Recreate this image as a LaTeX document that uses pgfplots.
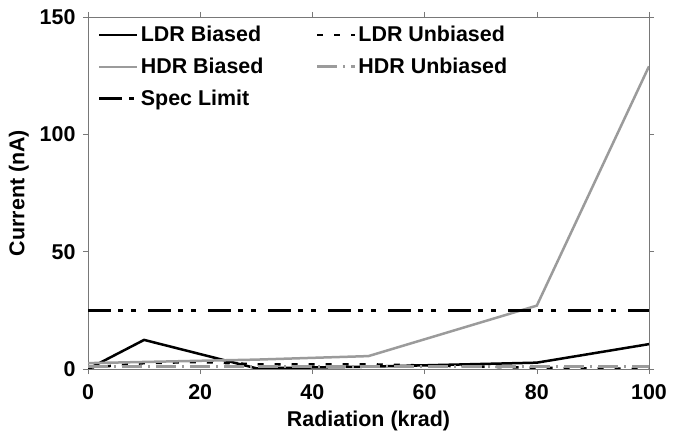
\documentclass[border=0pt]{standalone}
\usepackage{pgfplots}
\pgfplotsset{compat=1.18}
\usepackage{fontspec}
\setmainfont{Liberation Sans}
\definecolor{lgray}{RGB}{155,155,155}
\definecolor{fgray}{RGB}{120,120,120}
\begin{document}
\begin{tikzpicture}
\useasboundingbox (0,0) rectangle (680bp,438bp);
\begin{axis}[
  at={(88bp,69bp)}, anchor=south west,
  width=561bp, height=352bp, scale only axis,
  xmin=0, xmax=100, ymin=0, ymax=150,
  xtick={0,20,...,100}, ytick={0,50,100,150},
  tick align=outside, major tick length=5bp,
  every tick/.style={fgray, line width=0.6bp},
  axis line style={fgray, line width=0.8bp},
  tick label style={font=\fontsize{21.5}{23}\selectfont\bfseries},
  /pgf/number format/assume math mode=true,
  xticklabel style={yshift=-7bp},
  yticklabel style={xshift=-4bp},
  xlabel={Radiation (krad)}, ylabel={Current (nA)},
  label style={font=\fontsize{21.5}{23}\selectfont\bfseries},
  xlabel style={yshift=-4bp},
  ylabel style={yshift=4bp},
  legend columns=2,
  legend cell align=left,
  legend style={at={(0.012,0.985)}, anchor=north west, draw=none, fill=none,
    font=\fontsize{21.5}{23}\selectfont\bfseries, row sep=11bp,
    /tikz/every even column/.append style={column sep=50bp}},
  legend image code/.code={\draw[#1] (0bp,0bp) -- (38bp,0bp);},
]
\addplot[black, line width=2.5bp] coordinates {(0,0) (10,12.4) (30,0.3) (50,1) (80,2.7) (100,10.6)};
\addlegendentry{LDR Biased}
\addplot[black, line width=2.5bp, dash pattern=on 6bp off 11bp] coordinates {(0,0.5) (10,2.5) (20,3) (30,2) (50,2) (80,0.5) (100,0)};
\addlegendentry{LDR Unbiased}
\addplot[lgray, line width=2.5bp] coordinates {(0,2.5) (10,3) (30,4) (50,5.5) (80,27) (100,129)};
\addlegendentry{HDR Biased}
\addplot[lgray, line width=3bp, dash pattern=on 20bp off 6bp on 2bp off 6bp] coordinates {(0,1) (10,1) (30,1) (50,1) (80,1) (100,1)};
\addlegendentry{HDR Unbiased}
\addplot[black, line width=3bp, dash pattern=on 23bp off 7bp on 5bp off 8bp on 5bp off 12bp] coordinates {(0,25) (100,25)};
\addlegendentry{Spec Limit}
\end{axis}
\end{tikzpicture}
\end{document}
